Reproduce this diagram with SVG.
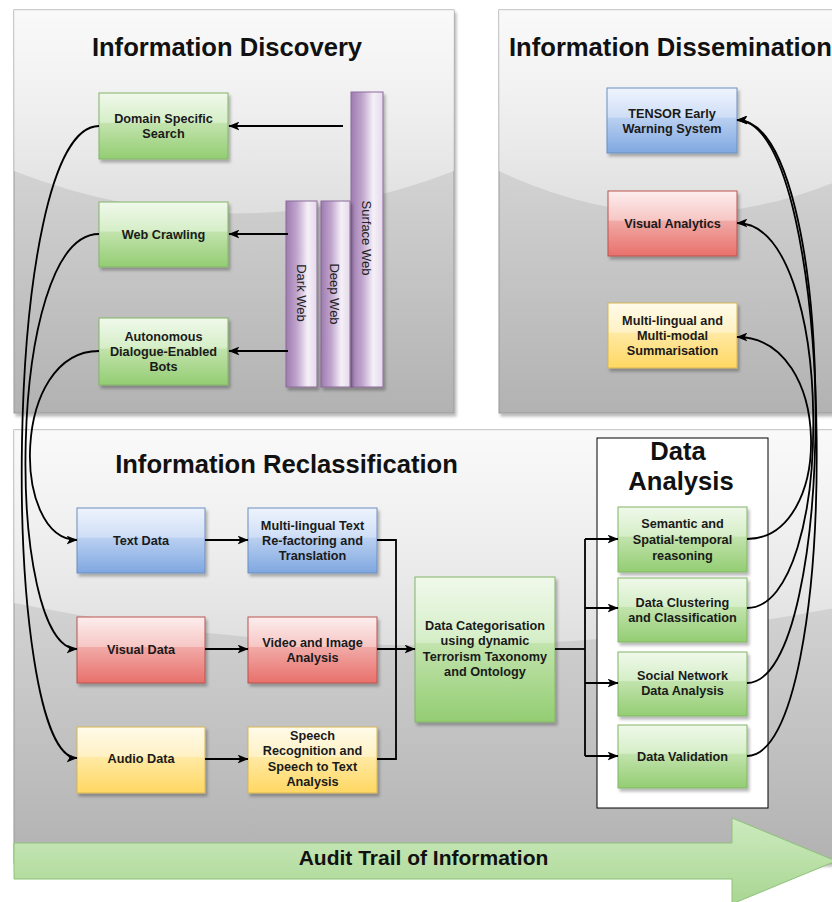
<svg xmlns="http://www.w3.org/2000/svg" width="832" height="902" viewBox="0 0 832 902">
<defs>
<style>
.title{font-family:"Liberation Sans",Arial,Helvetica,sans-serif;font-weight:bold;font-size:25.6px;fill:#111}
.lbl{font-family:"Liberation Sans",Arial,Helvetica,sans-serif;font-weight:bold;font-size:12.7px;fill:#1a1a1a;text-anchor:middle}
.col{font-family:"Liberation Sans",Arial,Helvetica,sans-serif;font-size:13px;fill:#222;text-anchor:middle}
.panel{stroke:#9a9a9a;stroke-width:1;fill:url(#gPanel);filter:url(#sh)}
.glass{fill:url(#gGlass)}
.node{stroke-width:1;filter:url(#sh)}
.green{fill:url(#gGreen);stroke:#82b366}
.blue{fill:url(#gBlue);stroke:#6c8ebf}
.red{fill:url(#gRed);stroke:#b85450}
.yellow{fill:url(#gYellow);stroke:#d6b656}
.purple{fill:url(#gPurple);stroke:#8c6a9c;stroke-width:1;filter:url(#sh)}
.conn{fill:none;stroke:#000;stroke-width:1.8}
.arr{marker-end:url(#ah)}
</style>
<filter id="sh" x="-10%" y="-10%" width="130%" height="130%">
<feDropShadow dx="2" dy="3" stdDeviation="1.5" flood-color="#000" flood-opacity="0.28"/>
</filter>
<linearGradient id="gPanel" x1="0" y1="0" x2="0" y2="1">
<stop offset="0" stop-color="#e8e8e8"/><stop offset="1" stop-color="#b2b2b2"/>
</linearGradient>
<linearGradient id="gGlass" x1="0" y1="0" x2="0" y2="1">
<stop offset="0" stop-color="#fff" stop-opacity="0.75"/><stop offset="1" stop-color="#fff" stop-opacity="0.35"/>
</linearGradient>
<linearGradient id="gGreen" x1="0" y1="0" x2="0" y2="1">
<stop offset="0" stop-color="#f0f9eb"/><stop offset="0.45" stop-color="#d5eec7"/><stop offset="0.46" stop-color="#c2e3ad"/><stop offset="1" stop-color="#93cd72"/>
</linearGradient>
<linearGradient id="gBlue" x1="0" y1="0" x2="0" y2="1">
<stop offset="0" stop-color="#eef4fd"/><stop offset="0.45" stop-color="#cfdef6"/><stop offset="0.46" stop-color="#bad0f1"/><stop offset="1" stop-color="#7fa7e0"/>
</linearGradient>
<linearGradient id="gRed" x1="0" y1="0" x2="0" y2="1">
<stop offset="0" stop-color="#fdeeee"/><stop offset="0.45" stop-color="#f6c6c4"/><stop offset="0.46" stop-color="#f1aaa7"/><stop offset="1" stop-color="#e8706b"/>
</linearGradient>
<linearGradient id="gYellow" x1="0" y1="0" x2="0" y2="1">
<stop offset="0" stop-color="#fffbea"/><stop offset="0.45" stop-color="#fff1c4"/><stop offset="0.46" stop-color="#ffe9a3"/><stop offset="1" stop-color="#ffd762"/>
</linearGradient>
<linearGradient id="gPurple" x1="0" y1="0" x2="1" y2="0">
<stop offset="0" stop-color="#9e7bb0"/><stop offset="0.35" stop-color="#c0a5cd"/><stop offset="0.7" stop-color="#f5f0f7"/><stop offset="1" stop-color="#e4d9ea"/>
</linearGradient>
<linearGradient id="gAudit" x1="0" y1="0" x2="0" y2="1">
<stop offset="0" stop-color="#cdeabf"/><stop offset="1" stop-color="#a8d692"/>
</linearGradient>
<marker id="ah" viewBox="0 0 10 8" refX="9.5" refY="4" markerWidth="11" markerHeight="9" markerUnits="userSpaceOnUse" orient="auto">
<path d="M0,0 L10,4 L0,8 L2.5,4 Z" fill="#000"/>
</marker>
</defs>

<g id="panel-discovery">
<rect class="panel" x="14" y="10" width="440" height="403"/>
<path class="glass" d="M14,10 H454 V171 Q234,256 14,171 Z"/>
<text class="title" x="227" y="56" text-anchor="middle">Information Discovery</text>
</g>
<g id="panel-dissemination">
<rect class="panel" x="499" y="10" width="361" height="403"/>
<path class="glass" d="M499,10 H860 V171 Q679.5,256 499,171 Z"/>
<text class="title" x="509" y="56">Information Dissemination</text>
</g>
<g id="panel-reclassification">
<rect class="panel" x="14" y="430" width="846" height="433"/>
<path class="glass" d="M14,430 H860 V603 Q437,688 14,603 Z"/>
<text class="title" x="286.5" y="473" text-anchor="middle">Information Reclassification</text>
</g>

<g id="audit-trail">
<path d="M14,843 H732 V818 L836,861 L732,904 V879 H14 Z" fill="url(#gAudit)" stroke="#8fc27a" stroke-width="1"/>
<text x="423.5" y="865" text-anchor="middle" style="font-family:'Liberation Sans',Arial,sans-serif;font-weight:bold;font-size:21px;fill:#111">Audit Trail of Information</text>
</g>

<g id="data-analysis">
<rect x="597" y="438" width="171" height="370" fill="#fff" stroke="#000" stroke-width="1"/>
<text class="title" x="678" y="460" text-anchor="middle">Data</text>
<text class="title" x="681" y="490" text-anchor="middle">Analysis</text>
</g>

<g id="surface-web">
<rect class="purple" x="351" y="92" width="32" height="295"/>
<text class="col" transform="translate(367,238) rotate(90)" dy="0.35em">Surface Web</text>
</g>
<g id="deep-web">
<rect class="purple" x="321" y="201" width="29" height="186"/>
<text class="col" transform="translate(335,294) rotate(90)" dy="0.35em">Deep Web</text>
</g>
<g id="dark-web">
<rect class="purple" x="286" y="201" width="31" height="186"/>
<text class="col" transform="translate(302,293) rotate(90)" dy="0.35em">Dark Web</text>
</g>

<g id="domain-search">
<rect class="node green" x="99" y="93" width="129" height="66"/>
<text class="lbl"><tspan x="163.5" y="123">Domain Specific</tspan><tspan x="163.5" y="138">Search</tspan></text>
</g>
<g id="web-crawling">
<rect class="node green" x="99" y="202" width="129" height="65"/>
<text class="lbl" x="163.5" y="239">Web Crawling</text>
</g>
<g id="dialogue-bots">
<rect class="node green" x="99" y="318" width="129" height="67"/>
<text class="lbl"><tspan x="163.5" y="341">Autonomous</tspan><tspan x="163.5" y="356">Dialogue-Enabled</tspan><tspan x="163.5" y="371">Bots</tspan></text>
</g>

<g id="tensor-ews">
<rect class="node blue" x="607" y="88" width="130" height="65"/>
<text class="lbl"><tspan x="672" y="117.5">TENSOR Early</tspan><tspan x="672" y="132.5">Warning System</tspan></text>
</g>
<g id="visual-analytics">
<rect class="node red" x="608" y="191" width="129" height="65"/>
<text class="lbl" x="672.5" y="227.5">Visual Analytics</text>
</g>
<g id="summarisation">
<rect class="node yellow" x="608" y="303" width="129" height="65"/>
<text class="lbl"><tspan x="672.5" y="324.5">Multi-lingual and</tspan><tspan x="672.5" y="339.5">Multi-modal</tspan><tspan x="672.5" y="354.5">Summarisation</tspan></text>
</g>

<g id="text-data">
<rect class="node blue" x="77" y="508" width="128" height="65"/>
<text class="lbl" x="141" y="544.5">Text Data</text>
</g>
<g id="text-refactoring">
<rect class="node blue" x="248" y="508" width="129" height="65"/>
<text class="lbl"><tspan x="312.5" y="529.5">Multi-lingual Text</tspan><tspan x="312.5" y="544.5">Re-factoring and</tspan><tspan x="312.5" y="559.5">Translation</tspan></text>
</g>
<g id="visual-data">
<rect class="node red" x="77" y="617" width="128" height="66"/>
<text class="lbl" x="141" y="653.5">Visual Data</text>
</g>
<g id="video-image">
<rect class="node red" x="248" y="617" width="129" height="66"/>
<text class="lbl"><tspan x="312.5" y="646.5">Video and Image</tspan><tspan x="312.5" y="661.5">Analysis</tspan></text>
</g>
<g id="audio-data">
<rect class="node yellow" x="77" y="727" width="128" height="66"/>
<text class="lbl" x="141" y="762.5">Audio Data</text>
</g>
<g id="speech-recognition">
<rect class="node yellow" x="248" y="727" width="129" height="66"/>
<text class="lbl"><tspan x="312.5" y="739.5">Speech</tspan><tspan x="312.5" y="755">Recognition and</tspan><tspan x="312.5" y="770.5">Speech to Text</tspan><tspan x="312.5" y="786">Analysis</tspan></text>
</g>
<g id="data-categorisation">
<rect class="node green" x="415" y="577" width="140" height="145"/>
<text class="lbl"><tspan x="485" y="629.5">Data Categorisation</tspan><tspan x="485" y="645">using dynamic</tspan><tspan x="485" y="660.5">Terrorism Taxonomy</tspan><tspan x="485" y="676">and Ontology</tspan></text>
</g>

<g id="semantic-reasoning">
<rect class="node green" x="618" y="507" width="129" height="65"/>
<text class="lbl"><tspan x="682.5" y="527.5">Semantic and</tspan><tspan x="682.5" y="543.5">Spatial-temporal</tspan><tspan x="682.5" y="559.5">reasoning</tspan></text>
</g>
<g id="clustering">
<rect class="node green" x="618" y="578" width="129" height="64"/>
<text class="lbl"><tspan x="682.5" y="606.5">Data Clustering</tspan><tspan x="682.5" y="621.5">and Classification</tspan></text>
</g>
<g id="social-network">
<rect class="node green" x="618" y="652" width="129" height="64"/>
<text class="lbl"><tspan x="682.5" y="679.5">Social Network</tspan><tspan x="682.5" y="694.5">Data Analysis</tspan></text>
</g>
<g id="data-validation">
<rect class="node green" x="618" y="725" width="129" height="63"/>
<text class="lbl" x="682.5" y="760.5">Data Validation</text>
</g>

<g id="connectors">
<path class="conn arr" d="M343,126 H229"/>
<path class="conn arr" d="M288,234 H229"/>
<path class="conn arr" d="M288,351 H229"/>
<path class="conn arr" d="M99,126 C0,126 0,758 77,758"/>
<path class="conn arr" d="M99,234 C5,234 5,649 77,649"/>
<path class="conn arr" d="M99,351 C11,351 11,540 77,540"/>
<path class="conn arr" d="M205,540 H248"/>
<path class="conn arr" d="M205,649 H248"/>
<path class="conn arr" d="M205,759 H248"/>
<path class="conn" d="M377,540 H396 V759 H377"/>
<path class="conn arr" d="M377,649 H415"/>
<path class="conn" d="M555,649 H585"/>
<path class="conn" d="M585,539 V756"/>
<path class="conn arr" d="M585,539 H618"/>
<path class="conn arr" d="M585,608 H618"/>
<path class="conn arr" d="M585,683 H618"/>
<path class="conn arr" d="M585,756 H618"/>
<path class="conn arr" d="M747,539 C834,539 834,337 737,337"/>
<path class="conn arr" d="M747,608 C837,608 837,223 737,223"/>
<path class="conn arr" d="M747,683 C840,683 840,120 737,120"/>
<path class="conn arr" d="M747,756 C843,756 840,120 737,120"/>
</g>
</svg>
